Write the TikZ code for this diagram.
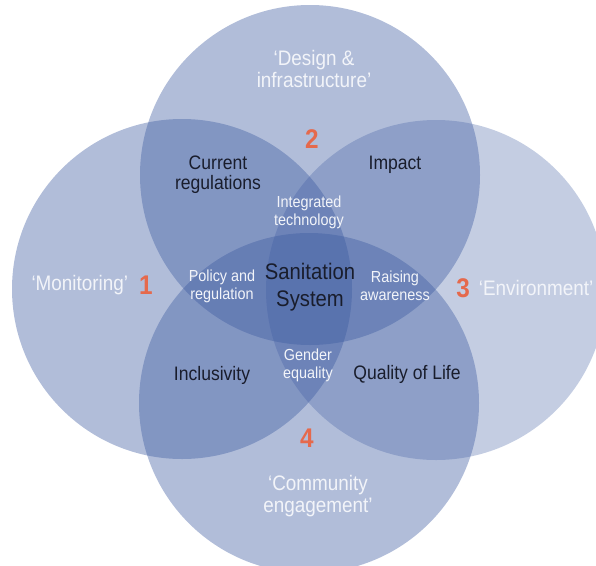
\documentclass[tikz,border=0pt]{standalone}
\usepackage{fontspec}
\setmainfont{Liberation Sans}[FakeStretch=0.9]
\usetikzlibrary{positioning}
\definecolor{venn}{RGB}{60,90,160}
\definecolor{numorange}{RGB}{229,105,76}
\definecolor{labelwhite}{RGB}{242,244,249}
\definecolor{labeldark}{RGB}{25,29,44}
\tikzset{
  set/.style={circle, fill=venn, fill opacity=0.4, minimum size=340pt, inner sep=0pt},
  outer/.style={text=labelwhite, align=center, font=\fontsize{21}{22}\selectfont},
  inner/.style={text=labeldark, align=center, font=\fontsize{19.5}{20}\selectfont},
  overlap/.style={text=labelwhite, align=center, font=\fontsize{16}{18}\selectfont},
  num/.style={text=numorange, font=\fontsize{27}{27}\bfseries\selectfont},
}

\begin{document}
\begin{tikzpicture}[x=1pt, y=-1pt]
	\clip (0,0) rectangle (596,565);
	% the four sets
	\node[set] (design) at (310,175) {};
	\node[set] (monitor) at (182,289) {};
	\node[set, fill opacity=0.3] (environ) at (436,290) {};
	\node[set] (community) at (309,403) {};

	% numbers and set names
	\node[num] (one) at (146,285) {1};
	\node[outer, left=4pt of one] (monitorlabel) {`Monitoring'};
	\node[num] (two) at (312,139) {2};
	\node[outer] (designlabel) at (314,69) {`Design \&\\infrastructure'};
	\node[num] (three) at (463,288) {3};
	\node[outer, right=2pt of three] (environlabel) {`Environment'};
	\node[num] (four) at (307,438) {4};
	\node[outer] (communitylabel) at (318,496) {`Community\\engagement'};

	% pairwise overlaps
	\node[inner] (regulations) at (218,175) {Current\\regulations};
	\node[inner] (impact) at (395,165) {Impact};
	\node[inner] (inclusivity) at (212,375) {Inclusivity};
	\node[inner] (quality) at (407,374) {Quality of Life};

	% triple overlaps
	\node[overlap] (technology) at (309,212) {Integrated\\technology};
	\node[overlap] (policy) at (222,286) {Policy and\\regulation};
	\node[overlap] (awareness) at (395,286) {Raising\\awareness};
	\node[overlap] (gender) at (308,365) {Gender\\equality};

	% middle
	\node[inner, font=\fontsize{22.5}{27}\selectfont] (system) at (310,287) {Sanitation\\System};
\end{tikzpicture}
\end{document}
